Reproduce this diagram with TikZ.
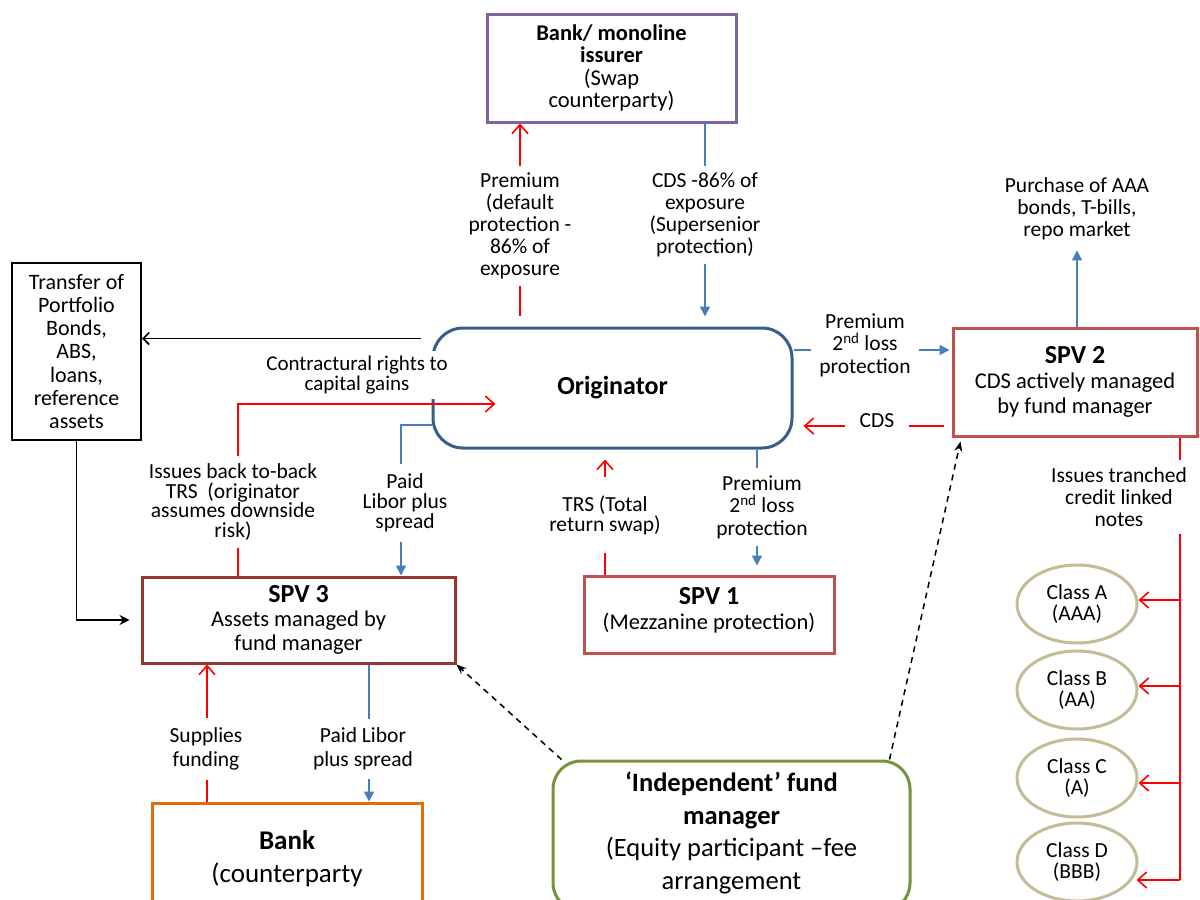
\documentclass[tikz,border=0pt]{standalone}
\usepackage{fontspec}
\setmainfont{Carlito}
\usetikzlibrary{arrows.meta,calc,shapes.geometric}
\definecolor{cred}{HTML}{FF0000}
\definecolor{cblue}{HTML}{4A7EBB}
\definecolor{corig}{HTML}{385D8A}
\definecolor{cpurple}{HTML}{8064A2}
\definecolor{cspv}{HTML}{C0504D}
\definecolor{cspvthree}{HTML}{953735}
\definecolor{corange}{HTML}{E46C0A}
\definecolor{cgreen}{HTML}{77933C}
\definecolor{ctan}{HTML}{C4BC96}
\tikzset{
  box/.style={rectangle, line width=3pt, align=center, inner sep=0pt, font=\fontsize{22.5}{25}\selectfont},
  lab/.style={align=center, inner xsep=4pt, inner ysep=7pt, font=\fontsize{21.5}{22}\selectfont},
  cls/.style={ellipse, draw=ctan, line width=3pt, minimum width=120, minimum height=78, inner sep=0pt, align=center, font=\fontsize{21.5}{20.5}\selectfont},
  redline/.style={draw=cred, line width=1.6pt},
  redarr/.style={redline, -{Straight Barb[length=9pt,width=16pt,line width=1.6pt]}},
  blueline/.style={draw=cblue, line width=1.5pt},
  bluearr/.style={blueline, -{Triangle[length=10pt,width=10pt]}},
  blkarr/.style={draw=black, line width=1.6pt, -{Straight Barb[length=6pt,width=12pt]}},
  blkarrb/.style={draw=black, line width=1.6pt, -{Stealth[length=10pt,width=10pt]}},
  dasharr/.style={draw=black, line width=1.5pt, dash pattern=on 6pt off 5pt, -{Stealth[length=10pt,width=8pt]}},
}
\newcommand{\ttl}[1]{{\fontsize{26}{27}\selectfont\bfseries #1}}
\begin{document}
\begin{tikzpicture}[x=1pt,y=-1pt]
\clip (0,0) rectangle (1200,900);
\fill[white] (0,0) rectangle (1200,900);

% boxes
\node[box, draw=cpurple, minimum width=249, minimum height=108, font=\fontsize{22.5}{22.5}\selectfont] (bankmono) at (611.5,68)
  {\textbf{Bank/ monoline}\\\textbf{issurer}\\(Swap\\counterparty)};
\node[box, draw=corig, rounded corners=30pt, minimum width=359, minimum height=120,
  font=\fontsize{26}{26}\selectfont\bfseries] (orig) at (612.5,388) {\raisebox{5pt}{Originator}};
\node[box, draw=cspv, minimum width=244, minimum height=108] (spv2) at (1075,382)
  {\ttl{SPV 2}\\CDS actively managed\\by fund manager};
\node[box, draw=black, line width=2pt, minimum width=129, minimum height=177,
  font=\fontsize{22}{23.2}\selectfont] (transfer) at (76.5,351.5)
  {Transfer of\\Portfolio\\Bonds,\\ABS,\\loans,\\reference\\assets};
\node[box, draw=cspvthree, minimum width=313, minimum height=86, font=\fontsize{22.5}{24}\selectfont] (spv3) at (298.5,620)
  {\ttl{SPV 3}\\Assets managed by\\fund manager};
\node[box, draw=cspv, minimum width=250, minimum height=77] (spv1) at (709,614.5)
  {\ttl{SPV 1}\\(Mezzanine protection)\\[-13pt]\mbox{}};
\node[box, draw=corange, minimum width=270, minimum height=112,
  font=\fontsize{27}{33}\selectfont] (bankcp) at (287,859)
  {\textbf{Bank}\\(counterparty};
\node[box, draw=cgreen, rounded corners=28pt, minimum width=357, minimum height=150,
  font=\fontsize{26.5}{32.5}\selectfont] (ifm) at (731.5,836)
  {\textbf{‘Independent’ fund}\\\textbf{manager}\\(Equity participant –fee\\arrangement\\[-22pt]\mbox{}};

\node[cls] (clsA) at (1077,604) {Class A\\(AAA)};
\node[cls] (clsB) at (1077,690) {Class B\\(AA)};
\node[cls] (clsC) at (1077,778) {Class C\\(A)};
\node[cls] (clsD) at (1077,862) {Class D\\(BBB)};

% labels
\node[lab] (L1) at (520,226) {Premium\\(default\\protection -\\86\% of\\exposure};
\node[lab] (L2) at (705,215) {CDS -86\% of\\exposure\\(Supersenior\\protection)};
\node[lab, fill=white, inner ysep=5pt, font=\fontsize{21}{20.5}\selectfont] (L3) at (357,375) {Contractural rights to\\capital gains};
\node[lab, font=\fontsize{21.5}{19.8}\selectfont] (L4) at (233,502) {Issues back to-back\\TRS~~(originator\\assumes downside\\risk)};
\node[lab, font=\fontsize{21.5}{20}\selectfont, inner ysep=10pt] (L5) at (405,503) {Paid\\Libor plus\\spread};
\node[lab, font=\fontsize{21.5}{20}\selectfont, inner ysep=18pt] (L6) at (605,515) {TRS (Total\\return swap)};
\node[lab, font=\fontsize{21.5}{22.5}\selectfont] (L7) at (762,507) {Premium\\2\textsuperscript{nd} loss\\protection};
\node[lab, inner xsep=8pt, font=\fontsize{21.5}{22.5}\selectfont] (L8) at (865,345) {Premium\\2\textsuperscript{nd} loss\\protection};
\node[lab, inner xsep=15pt] (L9) at (877,421) {CDS};
\node[lab, inner ysep=10pt] (L10) at (1077,209) {Purchase of AAA\\bonds, T-bills,\\repo market};
\node[lab] (L11) at (1119,497) {Issues tranched\\credit linked\\notes};
\node[lab, font=\fontsize{21.5}{24}\selectfont, inner ysep=9pt] (L12) at (206,749) {Supplies\\funding};
\node[lab, font=\fontsize{21.5}{24}\selectfont, inner ysep=9pt] (L13) at (363,749) {Paid Libor\\plus spread};

% helper coordinates
\coordinate (x1) at (520,0);
\coordinate (x2) at (705,0);
\coordinate (s3) at ($(orig.north west)+(-11,12)$);
\coordinate (t4) at (238,404);
\coordinate (b5) at (401,425);
\coordinate (x6) at (605,0);
\coordinate (x7) at (757,0);
\coordinate (y8) at (0,350);
\coordinate (y9) at (0,426);
\coordinate (tk) at (1180,0);
\coordinate (x12) at (207,0);
\coordinate (x13) at (369,0);

% 1 premium to bank/monoline
\draw[redline] ($(orig.north -| x1)+(0,-11)$) -- (L1.south -| x1);
\draw[redarr] (L1.north -| x1) -- (bankmono.south -| x1);
% 2 CDS supersenior
\draw[blueline] (bankmono.south -| x2) -- (L2.north -| x2);
\draw[bluearr] (L2.south -| x2) -- ($(orig.north -| x2)+(0,-10)$);
% 3 transfer of portfolio
\draw[blkarr] (s3) -- (s3 -| transfer.east);
% 4 back to back TRS
\draw[redline] (spv3.north -| t4) -- (L4.south -| t4);
\draw[redarr] (L4.north -| t4) -- (t4) -- ($(orig.west)+(64,16)$);
% 5 paid libor plus spread (originator -> SPV3)
\draw[blueline] ($(orig.west)+(0,37)$) -- (b5) -- (L5.north -| b5);
\draw[bluearr] (L5.south -| b5) -- (spv3.north -| b5);
% 6 TRS
\draw[redline] (spv1.north -| x6) -- (L6.south -| x6);
\draw[redarr] (L6.north -| x6) -- ($(orig.south -| x6)+(0,10)$);
% 7 premium 2nd loss to SPV1
\draw[blueline] (orig.south -| x7) -- (L7.north -| x7);
\draw[bluearr] (L7.south -| x7) -- ($(spv1.north -| x7)+(0,-9)$);
% 8 premium 2nd loss to SPV2
\draw[blueline] (orig.east |- y8) -- (L8.west |- y8);
\draw[bluearr] (L8.east |- y8) -- ($(spv2.west |- y8)+(-2,0)$);
% 9 CDS from SPV2
\draw[redline] ($(spv2.west |- y9)+(-8,0)$) -- (L9.east |- y9);
\draw[redarr] (L9.west |- y9) -- ($(orig.east |- y9)+(10,0)$);
% 10 purchase of AAA
\draw[bluearr] (spv2.north -| L10) -- (L10.south);
% 11 tranched notes
\draw[redline] (spv2.south -| tk) -- (L11.north -| tk);
\draw[redline] (L11.south -| tk) -- ($(tk |- clsD.east)+(0,18)$);
\draw[redarr] ($(tk |- clsA.east)+(0,-4)$) -- ($(clsA.east)+(0,-4)$);
\draw[redarr] ($(tk |- clsB.east)+(0,-4)$) -- ($(clsB.east)+(0,-4)$);
\draw[redarr] ($(tk |- clsC.east)+(0,5)$) -- ($(clsC.east)+(0,5)$);
\draw[redarr] ($(tk |- clsD.east)+(0,18)$) -- ($(clsD.east)+(-2,18)$);
% 12 transfer -> SPV3
\draw[blkarrb] (transfer.south) -- (transfer.south |- spv3.west) -- ($(spv3.west)+(-11,0)$);
% 13 supplies funding
\draw[redline] (bankcp.north -| x12) -- (L12.south -| x12);
\draw[redarr] (L12.north -| x12) -- (spv3.south -| x12);
% 14 paid libor plus spread (SPV3 -> bank)
\draw[blueline] (spv3.south -| x13) -- (L13.north -| x13);
\draw[bluearr] (L13.south -| x13) -- (bankcp.north -| x13);
% 15,16 fund manager dashed
\draw[dasharr] ($(ifm.north west)+(10,0)$) -- (spv3.south east);
\draw[dasharr] ($(ifm.north east)+(-22,0)$) -- ($(spv2.south west)+(9,4)$);
\end{tikzpicture}
\end{document}
